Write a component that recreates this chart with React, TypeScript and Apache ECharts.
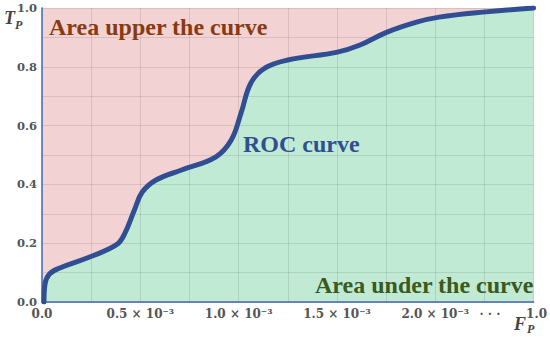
import React, { useEffect, useRef } from "react";
import * as echarts from "echarts";

const fpUnits: number[] = [0.04, 0.06, 0.15, 0.35, 0.97, 1.51, 1.67, 1.88, 2.04, 2.32, 2.84, 3.53, 3.85, 4.05, 4.25, 4.54, 5.0, 6.01, 6.47, 7.02, 7.62, 8.08, 8.97, 10];
const tpValues: number[] = [0, 0.06, 0.095, 0.115, 0.153, 0.194, 0.228, 0.313, 0.374, 0.415, 0.449, 0.493, 0.551, 0.643, 0.745, 0.796, 0.823, 0.85, 0.874, 0.918, 0.952, 0.969, 0.986, 1.0];
const xTickLabels: Record<number, string> = {
  0: "0.0",
  2: "0.5 × 10⁻³",
  4: "1.0 × 10⁻³",
  6: "1.5 × 10⁻³",
  8: "2.0 × 10⁻³",
  9: "{d|· · ·}",
  10: "{e|1.0}",
};

const SERIF = "'DejaVu Serif', serif";
const TIMES = "'Liberation Serif', 'Times New Roman', serif";

export default function App() {
  const ref = useRef<HTMLDivElement>(null);
  useEffect(() => {
    document.body.style.margin = "0";
    if (!ref.current) return;
    const chart = echarts.init(ref.current, undefined, { renderer: "svg" });
    const data = fpUnits.map((x, i) => [x, tpValues[i]]);
    const gridLine = { show: true, lineStyle: { color: "rgba(90,90,90,0.16)", width: 1 } };
    const labelBase = { color: "#555", fontFamily: SERIF, fontWeight: "bold", fontSize: 12 };
    chart.setOption({
      animation: false,
      grid: {
        left: 42,
        top: 8,
        right: 12,
        bottom: 35,
        show: true,
        backgroundColor: "#f2d2d3",
        borderWidth: 0,
      },
      xAxis: [
        {
          type: "value",
          min: 0,
          max: 10,
          interval: 1,
          z: 2,
          axisLine: { show: true, lineStyle: { color: "#4a66a6", width: 1.5 } },
          axisTick: { show: false },
          splitLine: gridLine,
          axisLabel: {
            margin: 6,
            ...labelBase,
            rich: {
              d: { ...labelBase, padding: [0, 0, 2, 11] },
              e: { ...labelBase, padding: [0, 0, 0, 6] },
            },
            formatter: (v: number) => xTickLabels[Math.round(v)] ?? "",
          },
        },
        {
          type: "value",
          position: "top",
          min: 0,
          max: 10,
          z: 4,
          axisLine: { show: true, lineStyle: { color: "#6680b8", width: 1 } },
          axisTick: { show: false },
          axisLabel: { show: false },
          splitLine: { show: false },
        },
      ],
      yAxis: [
        {
          type: "value",
          min: 0,
          max: 1,
          interval: 0.1,
          z: 2,
          axisLine: { show: true, lineStyle: { color: "#4a66a6", width: 1.5 } },
          axisTick: { show: false },
          splitLine: gridLine,
          axisLabel: {
            margin: 5,
            color: "#555",
            fontFamily: SERIF,
            fontWeight: "bold",
            fontSize: 11.5,
            formatter: (v: number) => {
              const r = Math.round(v * 10);
              return r % 2 === 0 ? (r / 10).toFixed(1) : "";
            },
          },
        },
        {
          type: "value",
          position: "right",
          min: 0,
          max: 1,
          z: 4,
          axisLine: { show: true, lineStyle: { color: "#6680b8", width: 1 } },
          axisTick: { show: false },
          axisLabel: { show: false },
          splitLine: { show: false },
        },
      ],
      series: [
        {
          type: "line",
          data,
          smooth: 0.4,
          symbol: "none",
          z: 1,
          lineStyle: { width: 0 },
          areaStyle: { color: "#c0ead4", opacity: 1 },
        },
        {
          type: "line",
          data,
          smooth: 0.4,
          symbol: "none",
          z: 5,
          lineStyle: { width: 5, color: "#2f4f92", cap: "round" },
        },
      ],
      graphic: [
        {
          type: "text",
          left: 49,
          top: 15,
          z: 10,
          style: { text: "Area upper the curve", fill: "#8a3a10", font: `bold 24px ${TIMES}` },
        },
        {
          type: "text",
          left: 243,
          top: 132,
          z: 10,
          style: { text: "ROC curve", fill: "#2f4f92", font: `bold 24px ${TIMES}` },
        },
        {
          type: "text",
          left: 315,
          top: 273,
          z: 10,
          style: { text: "Area under the curve", fill: "#3a5a1e", font: `bold 24px ${TIMES}` },
        },
        {
          type: "text",
          left: 4,
          top: 9,
          z: 10,
          style: { text: "T", fill: "#444", font: `italic bold 18px ${TIMES}` },
        },
        {
          type: "text",
          left: 15,
          top: 19,
          z: 10,
          style: { text: "P", fill: "#444", font: `italic bold 12px ${TIMES}` },
        },
        {
          type: "text",
          left: 514,
          top: 315,
          z: 10,
          style: { text: "F", fill: "#444", font: `italic bold 18px ${TIMES}` },
        },
        {
          type: "text",
          left: 527,
          top: 323,
          z: 10,
          style: { text: "P", fill: "#444", font: `italic bold 12px ${TIMES}` },
        },
      ],
    });
    return () => chart.dispose();
  }, []);
  return <div ref={ref} style={{ width: 550, height: 337 }} />;
}
